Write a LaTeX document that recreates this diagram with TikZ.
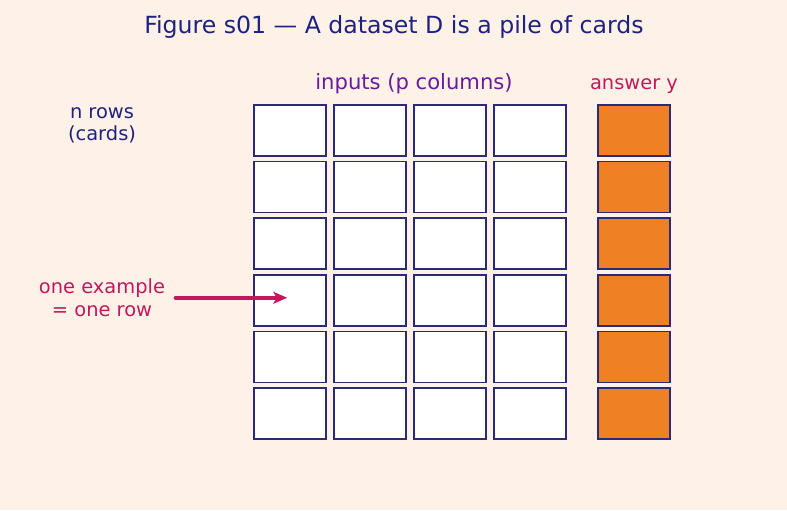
\documentclass[tikz,border=0pt]{standalone}
\usepackage{fontspec}
\setmainfont{DejaVu Sans}
\usepackage{xcolor}
\usetikzlibrary{arrows.meta}

\definecolor{bgcream}{HTML}{FEF2E8}
\definecolor{inknavy}{HTML}{1F2180}
\definecolor{boxnavy}{HTML}{2A2A78}
\definecolor{inpurple}{HTML}{6A1B9A}
\definecolor{anscrimson}{HTML}{C2185B}
\definecolor{ansorange}{HTML}{F08024}

\begin{document}
\begin{tikzpicture}[
            x = 0.72pt, y = -0.72pt, % one unit = one pixel of the figure
            > = {Stealth[length=10pt, width=8.5pt, inset=2.5pt]}, % arrow head style
            card/.style = {shape=rectangle, draw=boxnavy, line width=1.1pt, fill=white,
                           minimum width=51.8pt, minimum height=36.7pt, inner sep=0pt},
            anscard/.style = {card, fill=ansorange},
            lbl/.style = {align=center, font=\fontsize{14}{16.2}\selectfont}
        ]
\fill[bgcream] (0,0) rectangle (787,510);
\useasboundingbox (0,0) rectangle (787,510);

\node[text=inknavy, font=\fontsize{17}{20}\selectfont] (title) at (394,27) {Figure s01 — A dataset D is a pile of cards};
\node[text=inpurple, font=\fontsize{15.2}{18}\selectfont] (inputs) at (414,84) {inputs (p columns)};
\node[lbl, text=anscrimson] (answer) at (634,86.5) {answer y};
\node[lbl, text=inknavy] (nrows) at (102,125.5) {n rows\\(cards)};
\node[lbl, text=anscrimson] (example) at (102,297.5) {one example\\= one row};

% the cards: p input columns and one answer column
\foreach \r in {1,...,6} {
  \foreach \c in {1,...,4}
    \node[card] (cell-\r-\c) at ({210+80*\c},{130.5+56.6*(\r-1)}) {};
  \node[anscard] (ans-\r) at ({634},{130.5+56.6*(\r-1)}) {};
}

\coordinate (hit) at ([yshift=1.8pt]cell-4-1.center);
\draw [->, draw=anscrimson, fill=anscrimson, line width=2.6pt, line cap=round, shorten <= 4pt, shorten > = 2pt]
  (example.east |- hit) -- (hit);
\end{tikzpicture}
\end{document}
